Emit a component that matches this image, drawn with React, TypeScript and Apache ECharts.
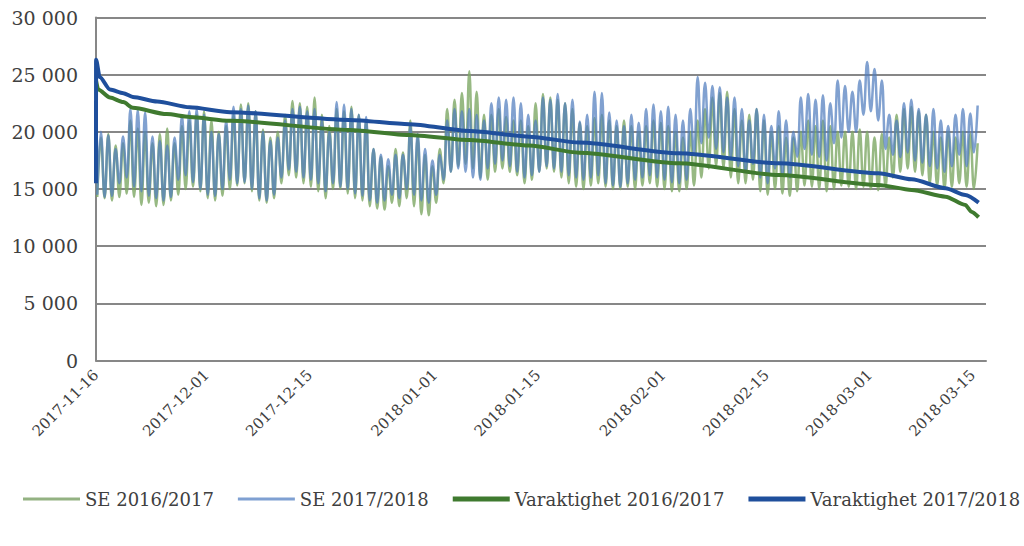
import React, { useEffect, useRef } from "react";
import * as echarts from "echarts";

// Tick labels (dates on x axis)
const tickLabels = [
  "2017-11-16", "2017-12-01", "2017-12-15", "2018-01-01", "2018-01-15",
  "2018-02-01", "2018-02-15", "2018-03-01", "2018-03-15",
];
const startDate = "2017-11-16";

// SE 2017/2018 – daily night trough and daytime peak (MW), day 0 = 2017-11-16
const se1718Low = [
  14500, 14300, 14400, 15500, 16000, 15200, 14800, 14400, 14200, 14000,
  14300, 15800, 16200, 15600, 15000, 14500, 14400, 15000, 15800, 15500,
  15600, 15000, 14200, 14000, 14500, 16000, 16700, 16500, 16000, 15800,
  15500, 14800, 15500, 15200, 15000, 14600, 14400, 14000, 13800, 14000,
  14500, 14200, 15000, 14500, 14000, 13800, 14500, 15800, 16500, 16800,
  16500, 16000, 15800, 16800, 17200, 17500, 17000, 16500, 16000, 16200,
  16500, 17000, 16800, 16500, 16200, 16000, 15800, 16000, 16200, 15500,
  15300, 15200, 15500, 15800, 16000, 16200, 16000, 15800, 15600, 15500,
  15800, 18000, 19000, 19500, 18500, 18200, 17800, 17000, 16500, 17200,
  16000, 15500, 16800, 16200, 16000, 17800, 18500, 18000, 17800, 17500,
  19000, 19500, 20000, 20000, 21500, 21800, 21000, 18500, 18000, 17800,
  18200, 17500, 17300, 17000, 16800, 16500, 17000, 18000, 17000, 18200,
];
const se1718High = [
  20000, 19700, 18500, 19600, 22000, 21900, 21700, 19600, 19200, 18800,
  19500, 21400, 21800, 22000, 21500, 20000, 19800, 21000, 22200, 22000,
  22300, 21800, 20000, 19200, 19500, 21000, 22000, 22200, 21800, 22000,
  21000, 20000, 22600, 22400, 22000, 21500, 21300, 18500, 18000, 17600,
  18000, 18000, 20500, 19800, 18500, 17500, 18000, 21000, 22000, 21800,
  22000, 21500, 21000, 22500, 23000, 22800, 23000, 22500, 21500, 21000,
  23000, 22800, 23300, 22500, 22800, 20900, 21500, 23500, 23400, 21700,
  21000, 20500, 21500, 20800, 22000, 22400, 21800, 22200, 21500, 21000,
  22000, 24800, 24300, 24000, 23900, 23000, 23000, 22000, 21000, 22000,
  21500, 20500, 21800, 21000, 20000, 23000, 23300, 22800, 23200, 22500,
  24500, 24000, 23500, 24500, 26100, 25500, 24500, 21500, 21000, 22500,
  22800, 22000, 21500, 22000, 21000, 20500, 21500, 22000, 21600, 22300,
];

// SE 2016/2017 – daily night trough and daytime peak (MW)
const se1617Low = [
  14300, 14200, 14000, 14300, 14600, 14300, 13600, 13800, 13500, 13600,
  14000, 14500, 15000, 15200, 14800, 14200, 14000, 14400, 15000, 15300,
  15500, 14800, 14000, 13800, 14200, 15500, 16200, 16000, 15500, 15200,
  14800, 14200, 15000, 15000, 14600, 14200, 14000, 13500, 13300, 13200,
  13800, 13500, 14200, 13500, 12800, 12700, 13800, 15500, 16500, 17000,
  17200, 16800, 16000, 15800, 16500, 16800, 16500, 16200, 15500, 15800,
  16500, 16800, 16500, 16000, 15500, 15200, 15000, 15300, 15500, 15200,
  15000, 15000, 15200, 15000, 15300, 15500, 15200, 15000, 14800, 14800,
  15000, 15300, 16000, 16800, 17000, 16800, 16000, 15500, 15500, 15800,
  14800, 14500, 15000, 14600, 14400, 14800, 15300, 15200, 15000, 14800,
  15000, 15300, 15200, 15000, 15200, 15000, 14900, 15200, 16000, 16500,
  16800, 16500, 16200, 15500, 15300, 15000, 15200, 15500, 15200, 15000,
];
const se1617High = [
  19500, 19800, 18800, 19000, 21000, 20300, 20000, 19000, 19800, 20300,
  19000, 20500, 21000, 21500, 21800, 21000, 20000, 20500, 21500, 22400,
  22500, 21800, 20200, 19500, 20000, 21500, 22700, 22500, 22200, 23000,
  21500, 20500, 22000, 21800, 22200, 21500, 21000, 18500, 17800, 17000,
  18500, 18200, 21000, 19500, 18000, 17000, 18500, 22000, 22800, 23400,
  25300, 23500, 21500, 21500, 22000, 21300, 21000, 21000, 20500, 22500,
  23300, 23000, 22800, 22500, 22000, 20800, 20500, 21200, 21500, 21000,
  20500, 21000, 20500, 20000, 20500, 21000, 20800, 20500, 20000, 19500,
  20000, 21000, 22000, 23000, 23400, 23500, 22000, 21000, 21500, 22000,
  21000, 20000, 20500, 19500, 19500, 20000, 21000, 20500, 21000, 20500,
  20000, 20000, 20000, 20200, 20000, 19500, 19800, 19500, 21500, 22000,
  22200, 21800, 21500, 20000, 19500, 20000, 19500, 20000, 19800, 19000,
];

// Duration curves: position (days from start) and value
const dur1718Days = [0, 0.01, 0.5, 1.9, 3.7, 5, 8.3, 12.7, 18.2, 34.4, 42.5, 50.7, 58.8, 65.6, 79.1, 92.7, 106.2, 110.7, 115.3, 118, 119.8];
const dur1718Vals = [15500, 26300, 24800, 23700, 23380, 23050, 22650, 22150, 21720, 21040, 20670, 20080, 19580, 19060, 18130, 17250, 16380, 15850, 15070, 14480, 13810];
const dur1617Days = [0, 0.3, 1.9, 3.7, 5, 9.6, 12.7, 18.2, 34.4, 42.5, 50.7, 58.8, 65.6, 79.1, 92.7, 106.2, 110.7, 115.3, 118, 118.8, 119.8];
const dur1617Vals = [24500, 23700, 23000, 22600, 22100, 21550, 21300, 20960, 20170, 19730, 19290, 18800, 18180, 17250, 16230, 15360, 14920, 14330, 13610, 13020, 12530];

const FONT = "DejaVu Serif";

export default function App() {
  const ref = useRef<HTMLDivElement>(null);
  useEffect(() => {
    if (!ref.current) return;
    const chart = echarts.init(ref.current, undefined, { renderer: "svg" });
    const t0 = Date.parse(startDate);
    const tickDays = tickLabels.map((s) => Math.round((Date.parse(s) - t0) / 864e5));
    const daily = (lo: number[], hi: number[]) => {
      const out: number[][] = [];
      lo.forEach((v, d) => {
        out.push([d + 4 / 24, v]);
        out.push([d + 16 / 24, hi[d]]);
      });
      return out;
    };
    const pair = (xs: number[], ys: number[]) => xs.map((x, i) => [x, ys[i]]);
    const thin = "path://M0,0h57v3h-57z";
    const thick = "path://M0,0h57v5h-57z";

    chart.setOption({
      animation: false,
      grid: { left: 96, right: 38, top: 17.5, bottom: 185.5, containLabel: false },
      legend: {
        left: 23,
        top: 490,
        width: 1001,
        padding: 0,
        itemWidth: 57,
        itemHeight: 5,
        itemGap: 24,
        symbolKeepAspect: true,
        textStyle: { fontFamily: FONT, fontSize: 18, color: "#404040" },
        data: [
          { name: "SE 2016/2017", icon: thin },
          { name: "SE 2017/2018", icon: thin },
          { name: "Varaktighet 2016/2017", icon: thick },
          { name: "Varaktighet 2017/2018", icon: thick },
        ],
      },
      xAxis: {
        type: "value",
        min: 0,
        max: 120.8,
        splitLine: { show: false },
        axisTick: { show: false },
        axisLine: { show: true, lineStyle: { color: "#878787", width: 2 } },
        axisLabel: {
          customValues: tickDays,
          rotate: 45,
          margin: 12,
          fontFamily: FONT,
          fontSize: 15,
          color: "#404040",
          formatter: (v: number) => {
            const i = tickDays.indexOf(Math.round(v));
            return i >= 0 ? tickLabels[i] : "";
          },
        },
      },
      yAxis: {
        type: "value",
        min: 0,
        max: 30000,
        interval: 5000,
        axisLine: { show: true, lineStyle: { color: "#878787", width: 2 } },
        axisTick: { show: false },
        splitLine: { show: true, lineStyle: { color: "#878787", width: 2 } },
        axisLabel: {
          margin: 18,
          fontFamily: FONT,
          fontSize: 19,
          color: "#404040",
          formatter: (v: number) => String(v).replace(/\B(?=(\d{3})+(?!\d))/g, " "),
        },
      },
      series: [
        {
          name: "SE 2016/2017",
          type: "line",
          data: daily(se1617Low, se1617High),
          symbol: "none",
          smooth: 0.4,
          color: "#93b282",
          lineStyle: { color: "rgba(125,168,100,0.8)", width: 2.5 },
        },
        {
          name: "SE 2017/2018",
          type: "line",
          data: daily(se1718Low, se1718High),
          symbol: "none",
          smooth: 0.4,
          color: "#7fa0d2",
          lineStyle: { color: "rgba(80,125,190,0.72)", width: 2.5 },
        },
        {
          name: "Varaktighet 2016/2017",
          type: "line",
          data: pair(dur1617Days, dur1617Vals),
          symbol: "none",
          smooth: 0.25,
          smoothMonotone: "x",
          color: "#3f7a2f",
          lineStyle: { color: "#3f7a2f", width: 4 },
        },
        {
          name: "Varaktighet 2017/2018",
          type: "line",
          data: pair(dur1718Days, dur1718Vals),
          symbol: "none",
          smooth: 0.25,
          smoothMonotone: "x",
          color: "#1f4f9c",
          lineStyle: { color: "#1f4f9c", width: 4 },
        },
      ],
    });
    return () => chart.dispose();
  }, []);
  return <div ref={ref} style={{ width: 1024, height: 546, position: "absolute", left: 0, top: 0 }} />;
}
